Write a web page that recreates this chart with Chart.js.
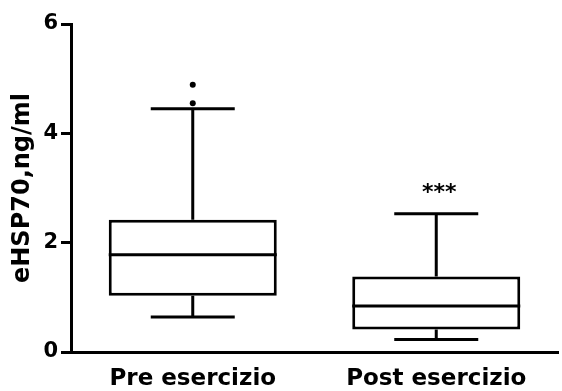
<!DOCTYPE html>
<html>
<head>
<meta charset="utf-8">
<script src="https://cdn.jsdelivr.net/npm/chart.js@4.4.1/dist/chart.umd.min.js"></script>
<style>
  html, body { margin: 0; padding: 0; background: #fff; }
  #wrap { width: 562px; height: 391px; }
</style>
</head>
<body>
<div id="wrap"><canvas id="c" width="562" height="391"></canvas></div>
<script>
// Groups and box-plot summaries (eHSP70, ng/ml)
const categories = ['Pre esercizio', 'Post esercizio'];
const q1 = [1.03, 0.41];
const median = [1.78, 0.84];
const q3 = [2.42, 1.38];
const whiskerLow = [0.64, 0.23];
const whiskerHigh = [4.45, 2.53];
const outlierGroup = ['Pre esercizio', 'Pre esercizio'];
const outlierValue = [4.89, 4.55];
const significance = ['', '***'];
const yTicks = [0, 2, 4, 6];

const FONT = '"DejaVu Sans", "Liberation Sans", Arial, sans-serif';

// Medians, whiskers, caps and significance marks on top of the boxes
const boxExtras = {
  id: 'boxExtras',
  afterDatasetsDraw(chart) {
    const ctx = chart.ctx;
    const y = chart.scales.y;
    const meta = chart.getDatasetMeta(0);
    ctx.save();
    ctx.strokeStyle = '#000';
    ctx.lineWidth = 3;
    ctx.lineCap = 'butt';
    meta.data.forEach((bar, i) => {
      const cx = bar.x;
      const half = bar.width / 2;
      const capHalf = bar.width / 4;
      const yMed = y.getPixelForValue(median[i]);
      const yQ1 = y.getPixelForValue(q1[i]);
      const yQ3 = y.getPixelForValue(q3[i]);
      const yLo = y.getPixelForValue(whiskerLow[i]);
      const yHi = y.getPixelForValue(whiskerHigh[i]);
      ctx.beginPath();
      // median
      ctx.moveTo(cx - half, yMed); ctx.lineTo(cx + half, yMed);
      // whiskers
      ctx.moveTo(cx, yQ3); ctx.lineTo(cx, yHi);
      ctx.moveTo(cx, yQ1); ctx.lineTo(cx, yLo);
      // caps
      ctx.moveTo(cx - capHalf, yHi); ctx.lineTo(cx + capHalf, yHi);
      ctx.moveTo(cx - capHalf, yLo); ctx.lineTo(cx + capHalf, yLo);
      ctx.stroke();
      if (significance[i]) {
        ctx.fillStyle = '#000';
        ctx.font = 'bold 22px ' + FONT;
        ctx.textAlign = 'center';
        ctx.textBaseline = 'alphabetic';
        ctx.fillText(significance[i], cx + 3, yHi - 15);
      }
    });
    ctx.restore();
  }
};

new Chart(document.getElementById('c'), {
  type: 'bar',
  data: {
    labels: categories,
    datasets: [
      {
        label: 'IQR',
        data: q1.map((v, i) => [v, q3[i]]),
        backgroundColor: '#fff',
        borderColor: '#000',
        borderWidth: 3,
        borderSkipped: false,
        categoryPercentage: 1,
        barPercentage: 0.69,
        order: 2
      },
      {
        type: 'line',
        label: 'Outliers',
        data: outlierGroup.map((g, i) => ({ x: g, y: outlierValue[i] })),
        showLine: false,
        pointRadius: 3,
        pointBackgroundColor: '#000',
        pointBorderColor: '#000',
        pointBorderWidth: 0,
        order: 1
      }
    ]
  },
  options: {
    responsive: false,
    animation: false,
    layout: { padding: { top: 24, right: 2, bottom: 0, left: 0 } },
    plugins: {
      legend: { display: false },
      tooltip: { enabled: false }
    },
    scales: {
      x: {
        type: 'category',
        offset: true,
        afterFit(scale) { scale.height = 39; },
        grid: { display: false, drawTicks: false },
        border: { display: true, color: '#000', width: 3 },
        ticks: {
          color: '#000',
          padding: 13,
          font: { family: FONT, size: 23, weight: 'bold' },
          maxRotation: 0
        }
      },
      y: {
        min: 0,
        max: 6,
        afterBuildTicks(scale) { scale.ticks = yTicks.map(v => ({ value: v })); },
        afterFit(scale) { scale.width = 71; },
        grid: {
          display: true,
          drawOnChartArea: false,
          drawTicks: true,
          tickLength: 10,
          tickWidth: 3,
          tickColor: '#000'
        },
        border: { display: true, color: '#000', width: 3 },
        ticks: {
          color: '#000',
          padding: 3,
          font: { family: FONT, size: 21, weight: 'bold' }
        },
        title: {
          display: true,
          text: 'eHSP70,ng/ml',
          color: '#000',
          padding: { top: 8, bottom: 0 },
          font: { family: FONT, size: 24, weight: 'bold' }
        }
      }
    }
  },
  plugins: [boxExtras]
});
</script>
</body>
</html>
